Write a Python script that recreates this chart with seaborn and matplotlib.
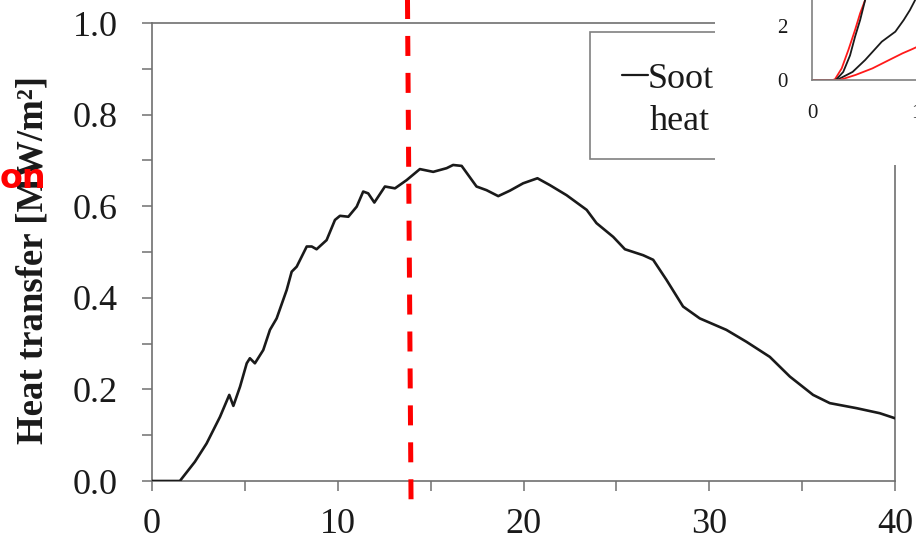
import matplotlib
matplotlib.use("Agg")
import matplotlib.pyplot as plt
from matplotlib.patches import Rectangle
from matplotlib.ticker import MultipleLocator, FixedLocator
import seaborn as sns
import pandas as pd

# ---- main series: heat transfer vs crank angle ----
time_vals = [0, 1.5, 2.31, 2.94, 3.66, 4.16, 4.38, 4.74, 5.10, 5.27, 5.54, 5.99,
             6.35, 6.71, 7.25, 7.52, 7.79, 8.33, 8.6, 8.86, 9.40, 9.85, 10.12,
             10.57, 11.02, 11.37, 11.64, 11.97, 12.54, 13.08, 13.71, 14.42, 15.14,
             15.86, 16.21, 16.67, 17.47, 18.01, 18.64, 19.27, 19.98, 20.75, 21.42,
             22.32, 23.40, 23.93, 24.83, 25.46, 26.44, 26.98, 27.70, 28.59, 29.49,
             30.92, 32.0, 33.26, 34.34, 35.59, 36.49, 37.93, 39.18, 40.0]
heat_vals = [0, 0, 0.042, 0.082, 0.140, 0.188, 0.164, 0.206, 0.257, 0.268, 0.257,
             0.286, 0.330, 0.355, 0.417, 0.457, 0.468, 0.512, 0.512, 0.506, 0.526,
             0.570, 0.579, 0.577, 0.599, 0.632, 0.628, 0.608, 0.643, 0.639, 0.657,
             0.681, 0.675, 0.683, 0.690, 0.688, 0.643, 0.635, 0.622, 0.634, 0.650,
             0.661, 0.646, 0.624, 0.592, 0.563, 0.533, 0.506, 0.493, 0.483, 0.439,
             0.381, 0.355, 0.330, 0.304, 0.271, 0.228, 0.188, 0.170, 0.159, 0.148,
             0.137]

x_major = [0, 10, 20, 30, 40]
y_major = [0.0, 0.2, 0.4, 0.6, 0.8, 1.0]
y_tick_labels = ["0.0", "0.2", "0.4", "0.6", "0.8", "1.0"]

# vertical marker (dashed red) endpoints
marker_x = [13.75, 13.95]
marker_y = [1.075, -0.068]

# ---- inset series ----
inset_red_steep_x = [0.0, 0.20, 0.221, 0.285, 0.349, 0.413, 0.462, 0.51, 0.54]
inset_red_steep_y = [0.0, 0.0, 0.03, 0.43, 1.11, 1.85, 2.47, 2.96, 3.3]
inset_blk_steep_x = [0.0, 0.22, 0.236, 0.30, 0.365, 0.413, 0.462, 0.51, 0.54]
inset_blk_steep_y = [0.0, 0.0, 0.03, 0.30, 0.91, 1.60, 2.22, 2.96, 3.3]
inset_blk_mid_x = [0.0, 0.24, 0.27, 0.39, 0.51, 0.67, 0.80, 0.88, 0.94, 0.99]
inset_blk_mid_y = [0.0, 0.0, 0.06, 0.30, 0.74, 1.42, 1.79, 2.22, 2.59, 2.96]
inset_red_flat_x = [0.0, 0.26, 0.29, 0.42, 0.58, 0.74, 0.87, 0.96, 1.05]
inset_red_flat_y = [0.0, 0.0, 0.03, 0.19, 0.43, 0.74, 0.99, 1.14, 1.30]

sns.set_style("white")
plt.rcParams["font.family"] = ["Liberation Serif", "DejaVu Serif"]
plt.rcParams["lines.scale_dashes"] = False

W, H = 916, 540
fig = plt.figure(figsize=(W / 100, H / 100), dpi=100)
fig.patch.set_facecolor("white")

# main axes
ax = fig.add_axes([152 / W, 59 / H, 743 / W, 458 / H])
ax.set_facecolor("white")
df = pd.DataFrame({"t": time_vals, "q": heat_vals})
sns.lineplot(data=df, x="t", y="q", ax=ax, color="#1a1a1a", lw=1.9,
             estimator=None, sort=False, zorder=3)
ax.set_xlim(0, 40)
ax.set_ylim(0, 1.0)
ax.set_xlabel("")
ax.set_ylabel("")
ax.xaxis.set_major_locator(FixedLocator(x_major))
ax.xaxis.set_minor_locator(MultipleLocator(5))
ax.yaxis.set_major_locator(FixedLocator(y_major))
ax.yaxis.set_minor_locator(MultipleLocator(0.1))
ax.set_yticklabels(y_tick_labels)
spine_col = "#707070"
for s in ax.spines.values():
    s.set_color(spine_col)
    s.set_linewidth(1.2)
    s.set_visible(True)
ax.tick_params(which="both", direction="out", length=7.5, width=1.1,
               color=spine_col, labelsize=26, labelcolor="#1a1a1a")
ax.tick_params(axis="y", which="both", left=True, pad=17)
ax.tick_params(axis="x", which="both", bottom=True, pad=12)

# y label
fig.text(33 / W, (H - 260) / H, "Heat transfer [MW/m²]", rotation=90,
         ha="center", va="center", fontsize=26.5, fontweight="bold",
         color="#1a1a1a")

# legend box
ax.add_patch(Rectangle((0.5895, 0.703), 0.4, 0.277, transform=ax.transAxes,
                       fill=False, edgecolor="#808080", lw=1.2, zorder=4))
ax.plot([0.6326, 0.6676], [0.8865, 0.8865], transform=ax.transAxes,
        color="#1a1a1a", lw=1.6, zorder=5)
ax.text(0.6676, 0.858, "Soot", transform=ax.transAxes, fontsize=26,
        ha="left", va="baseline", color="#1a1a1a", zorder=5)
ax.text(0.6703, 0.7664, "heat", transform=ax.transAxes, fontsize=26,
        ha="left", va="baseline", color="#1a1a1a", zorder=5)

# red dashed marker
ax.plot(marker_x, marker_y, color="#ff0000", lw=3.6, clip_on=False,
        dashes=(14.4, 12.2), solid_capstyle="butt", dash_capstyle="butt",
        zorder=6)

# white inset background
fig.patches.append(Rectangle((715 / W, (H - 165) / H), 1 - 715 / W, 165 / H,
                             transform=fig.transFigure, facecolor="white",
                             edgecolor="none", zorder=1))

# inset axes
iax = fig.add_axes([812 / W, (H - 80) / H, 125 / W, 81 / H], zorder=2)
iax.set_facecolor("none")
for xs, ys, c in [(inset_red_steep_x, inset_red_steep_y, "#ff1a1a"),
                  (inset_blk_steep_x, inset_blk_steep_y, "#1a1a1a"),
                  (inset_blk_mid_x, inset_blk_mid_y, "#1a1a1a"),
                  (inset_red_flat_x, inset_red_flat_y, "#ff1a1a")]:
    sns.lineplot(x=xs, y=ys, ax=iax, color=c, lw=1.3, estimator=None,
                 sort=False)
iax.set_xlim(0, 1.2)
iax.set_ylim(0, 3)
iax.xaxis.set_major_locator(FixedLocator([0, 1]))
iax.xaxis.set_minor_locator(FixedLocator([0.5]))
iax.yaxis.set_major_locator(FixedLocator([0, 2]))
iax.yaxis.set_minor_locator(FixedLocator([1, 3]))
iax.set_xticklabels(["0", "1"])
iax.set_yticklabels(["0", "2"])
for k in ["top", "right"]:
    iax.spines[k].set_visible(False)
for k in ["left", "bottom"]:
    iax.spines[k].set_color("#808080")
    iax.spines[k].set_linewidth(1.2)
iax.tick_params(which="both", direction="out", length=6.5, width=1.0,
                color="#808080", labelsize=15, labelcolor="#1a1a1a",
                pad=11)

# red fragment at the left edge
fig.text(0, (H - 188) / H, "on", fontsize=24, fontweight="bold",
         color="#ff0000", ha="left", va="baseline", family="DejaVu Sans",
         zorder=10)

fig.savefig("out.png", dpi=100)
